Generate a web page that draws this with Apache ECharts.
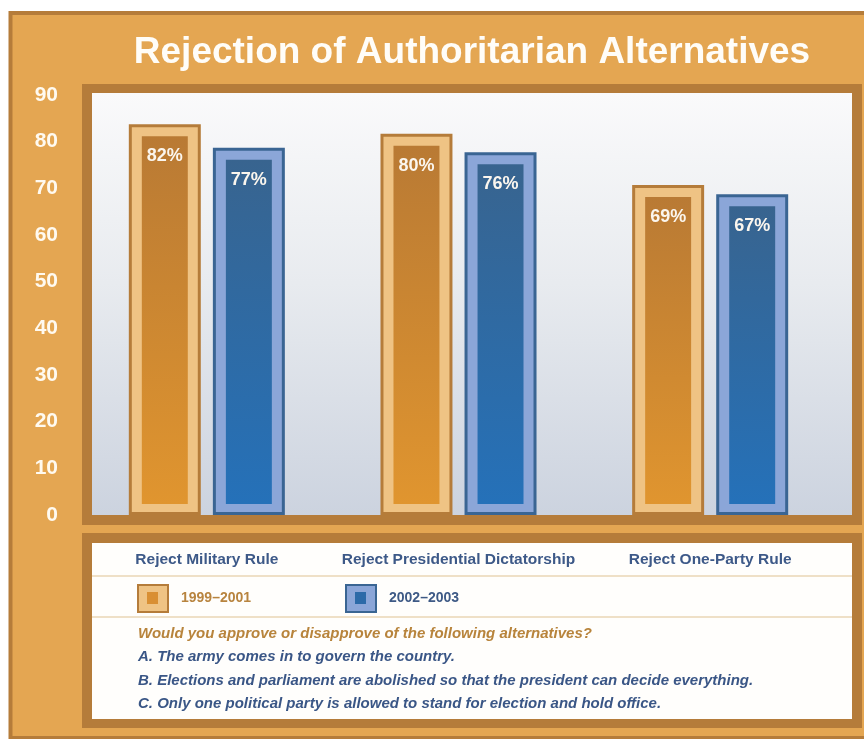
<!DOCTYPE html>
<html>
<head>
<meta charset="utf-8">
<title>Rejection of Authoritarian Alternatives</title>
<script src="https://cdn.jsdelivr.net/npm/echarts@6/dist/echarts.min.js"></script>
<style>
  html, body { margin: 0; padding: 0; background: #fff; }
  #chart { width: 864px; height: 739px; }
</style>
</head>
<body>
<div id="chart"></div>
<script>
var titleText = 'Rejection of Authoritarian Alternatives';
var categories = ['Reject Military Rule', 'Reject Presidential Dictatorship', 'Reject One-Party Rule'];
var periods = ['1999–2001', '2002–2003'];
var values1999 = [82, 80, 69];
var values2002 = [77, 76, 67];
var question = 'Would you approve or disapprove of the following alternatives?';
var notes = [
  'A. The army comes in to govern the country.',
  'B. Elections and parliament are abolished so that the president can decide everything.',
  'C. Only one political party is allowed to stand for election and hold office.'
];

var FONT = '"Liberation Sans", Arial, sans-serif';
var FRAME_DARK = '#b57c3a';
var FRAME_FILL = '#e4a652';
var ORANGE = { edge: '#b57c3a', ring: '#efc384', top: '#b97a34', bottom: '#e0952f', mid: '#d98f33' };
var BLUE = { edge: '#3a6593', ring: '#8ba6d8', top: '#38648f', bottom: '#2571b9', mid: '#2c6aa8' };

// draws one framed bar: dark outline, light ring, gradient core, value label
function barRenderer(shift, pal) {
  return function (params, api) {
    var idx = api.value(0);
    var val = api.value(1);
    var topPt = api.coord([idx, val]);
    var basePt = api.coord([idx, 0]);
    var band = api.size([1, 0])[0];
    var cx = topPt[0] + band * shift;
    var w = band * 0.286;
    var x0 = cx - w / 2;
    var yTop = topPt[1] - 8;
    var yBase = basePt[1];
    var innerTop = topPt[1] + 4;
    return {
      type: 'group',
      children: [
        { type: 'rect', shape: { x: x0, y: yTop, width: w, height: yBase - yTop }, style: { fill: pal.edge } },
        { type: 'rect', shape: { x: x0 + 3, y: yTop + 3, width: w - 6, height: yBase - yTop - 6 }, style: { fill: pal.ring } },
        {
          type: 'rect',
          shape: { x: x0 + 13, y: innerTop, width: w - 26, height: yBase - 11 - innerTop },
          style: {
            fill: new echarts.graphic.LinearGradient(0, 0, 0, 1, [
              { offset: 0, color: pal.top },
              { offset: 1, color: pal.bottom }
            ])
          }
        },
        {
          type: 'text',
          x: cx,
          y: innerTop + 20,
          style: {
            text: val + '%', fill: '#fbf6ee', font: 'bold 18px ' + FONT,
            align: 'center', verticalAlign: 'middle',
            textAlign: 'center', textVerticalAlign: 'middle'
          }
        }
      ]
    };
  };
}

var chart = echarts.init(document.getElementById('chart'));

var graphics = [
  // outer frame
  { type: 'rect', z: -10, shape: { x: 10.5, y: 13, width: 880, height: 725 }, style: { fill: FRAME_FILL, stroke: FRAME_DARK, lineWidth: 4 } },
  // plot panel
  { type: 'rect', z: -9, shape: { x: 82, y: 84, width: 780, height: 441 }, style: { fill: FRAME_DARK } },
  {
    type: 'rect', z: -8, shape: { x: 92, y: 93, width: 760, height: 422 },
    style: {
      fill: new echarts.graphic.LinearGradient(0, 0, 0, 1, [
        { offset: 0, color: '#fafafb' },
        { offset: 0.45, color: '#e8ebef' },
        { offset: 1, color: '#ccd3df' }
      ])
    }
  },
  // lower panel
  { type: 'rect', z: -9, shape: { x: 82, y: 533, width: 780, height: 195 }, style: { fill: FRAME_DARK } },
  { type: 'rect', z: -8, shape: { x: 92, y: 543, width: 760, height: 176 }, style: { fill: '#fffefc' } },
  { type: 'line', z: -7, shape: { x1: 92, y1: 576, x2: 852, y2: 576 }, style: { stroke: '#ead6b6', lineWidth: 1.5 } },
  { type: 'line', z: -7, shape: { x1: 92, y1: 617, x2: 852, y2: 617 }, style: { stroke: '#ead6b6', lineWidth: 1.5 } },
  // legend icon cores
  { type: 'rect', z: 20, shape: { x: 147, y: 592, width: 11, height: 12 }, style: { fill: ORANGE.mid } },
  { type: 'rect', z: 20, shape: { x: 355, y: 592, width: 11, height: 12 }, style: { fill: BLUE.mid } },
  {
    type: 'text', z: 10, x: 138, y: 634,
    style: { text: question, fill: '#b8843c', font: 'italic bold 15px ' + FONT, textVerticalAlign: 'middle', verticalAlign: 'middle' }
  }
];
notes.forEach(function (line, i) {
  graphics.push({
    type: 'text', z: 10, x: 138, y: 657 + i * 23.5,
    style: { text: line, fill: '#3a5686', font: 'italic bold 15px ' + FONT, textVerticalAlign: 'middle', verticalAlign: 'middle' }
  });
});

var legendBase = {
  itemWidth: 30,
  itemHeight: 27,
  padding: 0,
  selectedMode: false,
  top: 584,
  textStyle: { fontFamily: FONT, fontWeight: 'bold', fontSize: 14, padding: [0, 0, 0, 8] }
};

var option = {
  backgroundColor: '#ffffff',
  animation: false,
  title: {
    text: titleText,
    left: 467,
    top: 29,
    textAlign: 'center',
    textStyle: { color: '#fffdf8', fontFamily: FONT, fontWeight: 'bold', fontSize: 37 }
  },
  legend: [
    Object.assign({}, legendBase, {
      left: 137,
      data: [{ name: periods[0], icon: 'rect', itemStyle: { color: ORANGE.ring, borderColor: ORANGE.edge, borderWidth: 2 }, textStyle: { color: '#b8843f' } }]
    }),
    Object.assign({}, legendBase, {
      left: 345,
      data: [{ name: periods[1], icon: 'rect', itemStyle: { color: BLUE.ring, borderColor: BLUE.edge, borderWidth: 2 }, textStyle: { color: '#3e5a86' } }]
    })
  ],
  grid: { left: 81, right: 28, top: 95, bottom: 224 },
  xAxis: {
    type: 'category',
    data: categories,
    axisLine: { show: false },
    axisTick: { show: false },
    axisLabel: { interval: 0, margin: 37, color: '#3d5988', fontFamily: FONT, fontWeight: 'bold', fontSize: 15.5 }
  },
  yAxis: {
    type: 'value',
    min: 0,
    max: 90,
    interval: 10,
    splitLine: { show: false },
    axisLine: { show: false },
    axisTick: { show: false },
    axisLabel: { margin: 23, color: '#fffaf0', fontFamily: FONT, fontWeight: 'bold', fontSize: 21 }
  },
  graphic: graphics,
  series: [
    {
      name: periods[0],
      type: 'custom',
      itemStyle: { color: ORANGE.ring },
      encode: { x: 0, y: 1 },
      data: values1999.map(function (v, i) { return [i, v]; }),
      renderItem: barRenderer(-0.167, ORANGE)
    },
    {
      name: periods[1],
      type: 'custom',
      itemStyle: { color: BLUE.ring },
      encode: { x: 0, y: 1 },
      data: values2002.map(function (v, i) { return [i, v]; }),
      renderItem: barRenderer(0.167, BLUE)
    }
  ]
};

chart.setOption(option);
window.onresize = function () { chart.resize(); };
</script>
</body>
</html>
